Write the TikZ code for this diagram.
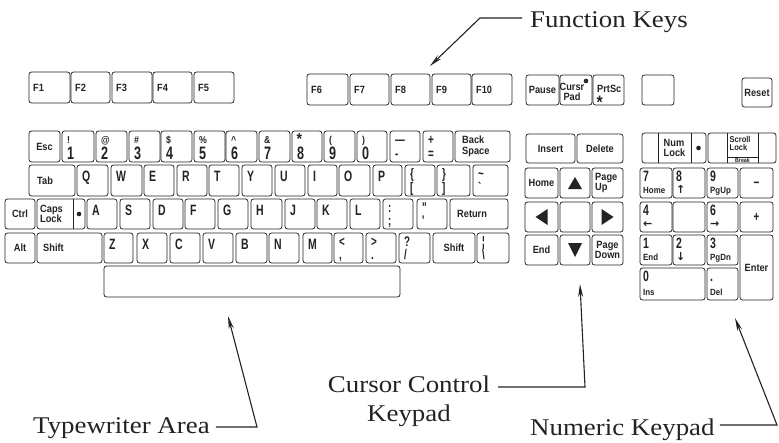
\documentclass[tikz,border=0pt]{standalone}
\usepackage{fontspec}
\usetikzlibrary{fit,arrows.meta,calc}
\newfontfamily\kf{Liberation Sans}[FakeStretch=0.88]
\newfontfamily\kfc{Liberation Sans}[FakeStretch=0.7]
\newfontfamily\lf{Liberation Serif}[FakeStretch=1.12]
\newfontfamily\symf{DejaVu Sans}
\definecolor{ink}{RGB}{35,35,35}
\tikzset{
  keybox/.style={draw=ink, line width=0.75pt, rounded corners=2.5pt, inner sep=0pt, outer sep=0pt},
  kl/.style={font=\kf\bfseries\fontsize{10.5}{10.5}\selectfont, text=ink, inner sep=0pt, align=left},
  ktiny/.style={font=\kf\bfseries\fontsize{8.5}{8.5}\selectfont, text=ink, inner sep=0pt, align=left},
  kbig/.style={font=\kfc\bfseries\fontsize{15}{15}\selectfont, text=ink, inner sep=0pt},
  ksym/.style={font=\kf\bfseries\fontsize{10}{10}\selectfont, text=ink, inner sep=0pt},
  kstar/.style={font=\kf\bfseries\fontsize{18}{18}\selectfont, text=ink, inner sep=0pt},
  kdig/.style={font=\kfc\bfseries\fontsize{18}{18}\selectfont, text=ink, inner sep=0pt},
  kpun/.style={font=\kfc\bfseries\fontsize{14}{14}\selectfont, text=ink, inner sep=0pt},
  kpad/.style={font=\kfc\bfseries\fontsize{15}{15}\selectfont, text=ink, inner sep=0pt},
  ksub/.style={font=\kf\bfseries\fontsize{9}{9}\selectfont, text=ink, inner sep=0pt},
  lbl/.style={font=\lf\fontsize{24}{29}\selectfont, text=ink, inner sep=0pt},
  arr/.style={draw=ink, line width=1.1pt, -{Stealth[length=13pt,width=5pt]}},
  divl/.style={draw=ink, line width=0.75pt},
}
\newcommand\kbox[5]{\node[keybox, fit={(#2,#3) (#4,#5)}] (#1) {};}
\newcommand\kc[2]{\node[kl, align=center] (#1-l) at (#1.center) {#2};}
\newcommand\kw[3][4]{\node[kl, anchor=west] (#2-l) at ([xshift=#1pt]#2.west) {#3};}
\newcommand\kL[2]{\node[kbig, anchor=base west] (#1-l) at ([shift={(5,16)}]#1.north west) {#2};}
\newcommand\kN[3]{\node[ksym, anchor=base west] (#1-t) at ([shift={(5,12)}]#1.north west) {#2};
  \node[kdig, anchor=base west] (#1-b) at ([shift={(5,-2.5)}]#1.south west) {#3};}
\newcommand\kP[3]{\node[kpun, anchor=north west] (#1-t) at ([shift={(5,3)}]#1.north west) {\vphantom{(}#2};
  \node[kpun, anchor=base west] (#1-b) at ([shift={(5,-4)}]#1.south west) {#3};}
\newcommand\kK[3]{\node[kpad, anchor=north west] (#1-t) at ([shift={(3,3)}]#1.north west) {#2};
  \node[ksub, anchor=base west] (#1-b) at ([shift={(3,-4.5)}]#1.south west) {#3};}
\newcommand\karrow[1]{{\symf\fontsize{11}{11}\selectfont #1}}
\newcommand\bigstar{\raisebox{-0.42em}[0.32em][0pt]{*}}
\begin{document}
\begin{tikzpicture}[x=1pt, y=-1pt]
\fill[white] (0,0) rectangle (779,442);
\useasboundingbox (0,0) rectangle (779,442);

% ---------- function row
\kbox{kf1}{29}{72}{70}{103} \kw{kf1}{F1}
\kbox{kf2}{71}{72}{110}{103} \kw{kf2}{F2}
\kbox{kf3}{112}{72}{152}{103} \kw{kf3}{F3}
\kbox{kf4}{153}{72}{192}{103} \kw{kf4}{F4}
\kbox{kf5}{194}{72}{234}{103} \kw{kf5}{F5}
\kbox{kf6}{307}{74}{348}{105} \kw{kf6}{F6}
\kbox{kf7}{350}{74}{389}{105} \kw{kf7}{F7}
\kbox{kf8}{391}{74}{430}{105} \kw{kf8}{F8}
\kbox{kf9}{432}{74}{471}{105} \kw{kf9}{F9}
\kbox{kf10}{472}{74}{512}{105} \kw{kf10}{F10}

% ---------- number row
\kbox{kesc}{29}{131}{60}{162} \kc{kesc}{Esc}
\kbox{kn1}{62}{131}{94}{162} \kN{kn1}{!}{1}
\kbox{kn2}{96}{131}{127}{162} \kN{kn2}{@}{2}
\kbox{kn3}{129}{131}{160}{162} \kN{kn3}{\#}{3}
\kbox{kn4}{161}{131}{192}{162} \kN{kn4}{\$}{4}
\kbox{kn5}{194}{131}{225}{162} \kN{kn5}{\%}{5}
\kbox{kn6}{226}{131}{257}{162} \kN{kn6}{\textasciicircum}{6}
\kbox{kn7}{259}{131}{290}{162} \kN{kn7}{\&}{7}
\kbox{kn8}{292}{131}{322}{162}
\node[kstar, font=\kf\bfseries\fontsize{16}{16}\selectfont, anchor=base west] (kn8-t) at ([shift={(4.5,13)}]kn8.north west) {*};
\node[kdig, anchor=base west] (kn8-b) at ([shift={(5,-2.5)}]kn8.south west) {8};
\kbox{kn9}{324}{131}{355}{162} \kN{kn9}{(}{9}
\kbox{kn0}{357}{131}{387}{162} \kN{kn0}{)}{0}
\kbox{kmin}{390}{131}{420}{162} \kP{kmin}{—}{-}
\kbox{keq}{423}{131}{453}{162} \kP{keq}{+}{=}
\kbox{kbs}{455}{131}{510}{162} \kw[7]{kbs}{Back\\Space}

% ---------- tab row
\kbox{ktab}{29}{165}{75}{196} \kw[8]{ktab}{Tab}
\kbox{kq}{77}{165}{108}{196} \kL{kq}{Q}
\kbox{kw}{111}{165}{142}{196} \kL{kw}{W}
\kbox{ke}{144}{165}{174}{196} \kL{ke}{E}
\kbox{kr}{177}{165}{207}{196} \kL{kr}{R}
\kbox{kt}{209}{165}{239}{196} \kL{kt}{T}
\kbox{ky}{242}{165}{272}{196} \kL{ky}{Y}
\kbox{ku}{275}{165}{305}{196} \kL{ku}{U}
\kbox{ki}{308}{165}{337}{196} \kL{ki}{I}
\kbox{ko}{339}{165}{370}{196} \kL{ko}{O}
\kbox{kp}{373}{165}{402}{196} \kL{kp}{P}
\kbox{klb}{405}{165}{435}{196} \kP{klb}{\{}{[}
\kbox{krb}{437}{165}{470}{196} \kP{krb}{\}}{]}
\kbox{ktl}{473}{165}{508}{196} \kP{ktl}{\textasciitilde}{`}

% ---------- ctrl row
\kbox{kctrl}{5}{199}{35}{229} \kc{kctrl}{Ctrl}
\kbox{kcaps}{37}{199}{85}{229} \kw[3]{kcaps}{Caps\\Lock}
\draw[divl] (73,199) -- (73,229);
\fill[ink] (79,214) circle (2.3);
\kbox{ka}{87}{199}{117}{229} \kL{ka}{A}
\kbox{ks}{120}{199}{150}{229} \kL{ks}{S}
\kbox{kd}{153}{199}{183}{229} \kL{kd}{D}
\kbox{kff}{185}{199}{215}{229} \kL{kff}{F}
\kbox{kg}{218}{199}{248}{229} \kL{kg}{G}
\kbox{kh}{251}{199}{282}{229} \kL{kh}{H}
\kbox{kj}{285}{199}{315}{229} \kL{kj}{J}
\kbox{kk}{317}{199}{347}{229} \kL{kk}{K}
\kbox{kell}{350}{199}{380}{229} \kL{kell}{L}
\kbox{ksc}{383}{199}{413}{229} \kP{ksc}{:}{;}
\kbox{kqt}{417}{199}{447}{229} \kP{kqt}{"}{'}
\kbox{kret}{450}{199}{508}{229} \kw[7]{kret}{Return}

% ---------- alt row
\kbox{kalt}{5}{233}{35}{263} \kc{kalt}{Alt}
\kbox{klsh}{37}{233}{102}{263} \kw[6]{klsh}{Shift}
\kbox{kz}{104}{233}{133}{263} \kL{kz}{Z}
\kbox{kx}{137}{233}{167}{263} \kL{kx}{X}
\kbox{kcc}{170}{233}{200}{263} \kL{kcc}{C}
\kbox{kv}{203}{233}{233}{263} \kL{kv}{V}
\kbox{kb}{236}{233}{267}{263} \kL{kb}{B}
\kbox{kn}{269}{233}{299}{263} \kL{kn}{N}
\kbox{km}{303}{233}{332}{263} \kL{km}{M}
\kbox{klt}{334}{233}{363}{263} \kP{klt}{<}{,}
\kbox{kgt}{366}{233}{396}{263} \kP{kgt}{>}{.}
\kbox{kqm}{399}{233}{430}{263} \kP{kqm}{?}{/}
\kbox{krsh}{433}{233}{475}{263} \kc{krsh}{Shift}
\kbox{kbsl}{477}{233}{509}{263} \kP{kbsl}{¦}{\textbackslash}

% ---------- space bar
\kbox{kspace}{104}{266}{400}{297}

% ---------- cursor section
\kbox{kpause}{526}{75}{559}{105} \kc{kpause}{Pause}
\kbox{kcpad}{560}{75}{592}{105}
\node[kl, align=center] (kcpad-l) at ([shift={(-4,2)}]kcpad.center) {Cursr\\Pad};
\fill[ink] (586,81) circle (2.3);
\kbox{kprt}{593}{75}{624}{105}
\node[kl, anchor=base west] (kprt-l) at (597,92) {PrtSc};
\node[kstar, anchor=north west] (kprt-s) at (596.5,95) {\bigstar};
\kbox{kblank}{642}{75}{674}{105}
\kbox{kreset}{742}{78}{772}{107} \kc{kreset}{Reset}

\kbox{kins}{526}{134}{575}{163} \kc{kins}{Insert}
\kbox{kdel}{577}{134}{623}{163} \kc{kdel}{Delete}
\kbox{khome}{525}{168}{558}{198} \kc{khome}{Home}
\kbox{kup}{560}{168}{590}{198}
\kbox{kpgup}{592}{168}{623}{198} \kw[3]{kpgup}{Page\\Up}
\kbox{kleft}{525}{202}{558}{232}
\kbox{kmid}{560}{202}{590}{232}
\kbox{kright}{592}{202}{623}{232}
\kbox{kend}{525}{235}{558}{265} \kc{kend}{End}
\kbox{kdown}{560}{235}{590}{265}
\kbox{kpgdn}{592}{235}{623}{265} \kc{kpgdn}{Page\\Down}
\fill[ink] ([shift={(0,-6)}]kup.center) -- ([shift={(7,6)}]kup.center) -- ([shift={(-7,6)}]kup.center) -- cycle;
\fill[ink] ([shift={(0,7)}]kdown.center) -- ([shift={(7,-7)}]kdown.center) -- ([shift={(-7,-7)}]kdown.center) -- cycle;
\fill[ink] ([shift={(-6,0)}]kleft.center) -- ([shift={(6,-8)}]kleft.center) -- ([shift={(6,8)}]kleft.center) -- cycle;
\fill[ink] ([shift={(6,0)}]kright.center) -- ([shift={(-6,-8)}]kright.center) -- ([shift={(-6,8)}]kright.center) -- cycle;

% ---------- numeric keypad
\kbox{knl}{642}{133}{706}{163}
\draw[divl] (658,133) -- (658,163);
\draw[divl] (691,133) -- (691,163);
\node[kl] (knl-l) at (674.5,148) {Num\\Lock};
\fill[ink] (698.5,148) circle (2.3);
\kbox{kscr}{708}{133}{776}{163}
\draw[divl] (727,133) -- (727,163);
\draw[divl] (758,133) -- (758,163);
\node[ktiny, anchor=north west] (kscr-l) at (729.5,136) {Scroll\\Lock};
\draw[divl] (727,157.5) -- (758,157.5);
\node[kl, font=\kf\bfseries\fontsize{6}{6}\selectfont] (kscr-b) at (742.5,160.5) {Break};

\kbox{kp7}{640}{168}{672}{198} \kK{kp7}{7}{Home}
\kbox{kp8}{673}{168}{705}{198} \kK{kp8}{8}{\karrow{↑}}
\kbox{kp9}{707}{168}{738}{198} \kK{kp9}{9}{PgUp}
\kbox{kpm}{740}{168}{773}{198} \node[kpun] (kpm-l) at ([yshift=-2]kpm.center) {−};
\kbox{kp4}{640}{202}{672}{232} \kK{kp4}{4}{\karrow{←}}
\kbox{kp5}{673}{202}{705}{232}
\kbox{kp6}{707}{202}{738}{232} \kK{kp6}{6}{\karrow{→}}
\kbox{kpp}{740}{202}{773}{232} \node[kpun] (kpp-l) at (kpp.center) {+};
\kbox{kp1}{640}{235}{672}{265} \kK{kp1}{1}{End}
\kbox{kp2}{673}{235}{705}{265} \kK{kp2}{2}{\karrow{↓}}
\kbox{kp3}{707}{235}{738}{265} \kK{kp3}{3}{PgDn}
\kbox{kent}{740}{235}{773}{300} \kc{kent}{Enter}
\kbox{kp0}{640}{268}{705}{300} \kK{kp0}{0}{Ins}
\kbox{kpd}{707}{268}{738}{300} \kK{kpd}{\vphantom{0}.}{Del}

% ---------- annotations
\node[lbl, anchor=base west] (fk) at (530,27) {Function Keys};
\coordinate (fkbend) at (480,18);
\coordinate (fktip) at (430,66);
\draw[arr] ($(fk.west |- fkbend)+(-8,0)$) -- (fkbend) -- (fktip);

\node[lbl, anchor=base west] (tw) at (33,433) {Typewriter Area};
\coordinate (twbend) at (257,427);
\coordinate (twtip) at (228,316);
\draw[arr] ($(tw.east |- twbend)+(6,0)$) -- (twbend) -- (twtip);

\node[lbl, align=center, anchor=north] (cc) at (409,375.5) {Cursor Control\\Keypad};
\coordinate (ccbend) at (585,387);
\coordinate (cctip) at (580,284);
\draw[arr] ($(cc.east |- ccbend)+(8,0)$) -- (ccbend) -- (cctip);

\node[lbl, anchor=base west] (nk) at (530,435) {Numeric Keypad};
\coordinate (nkbend) at (777,425);
\coordinate (nktip) at (735,318);
\draw[arr] ($(nk.east |- nkbend)+(5,0)$) -- (nkbend) -- (nktip);
\end{tikzpicture}
\end{document}
